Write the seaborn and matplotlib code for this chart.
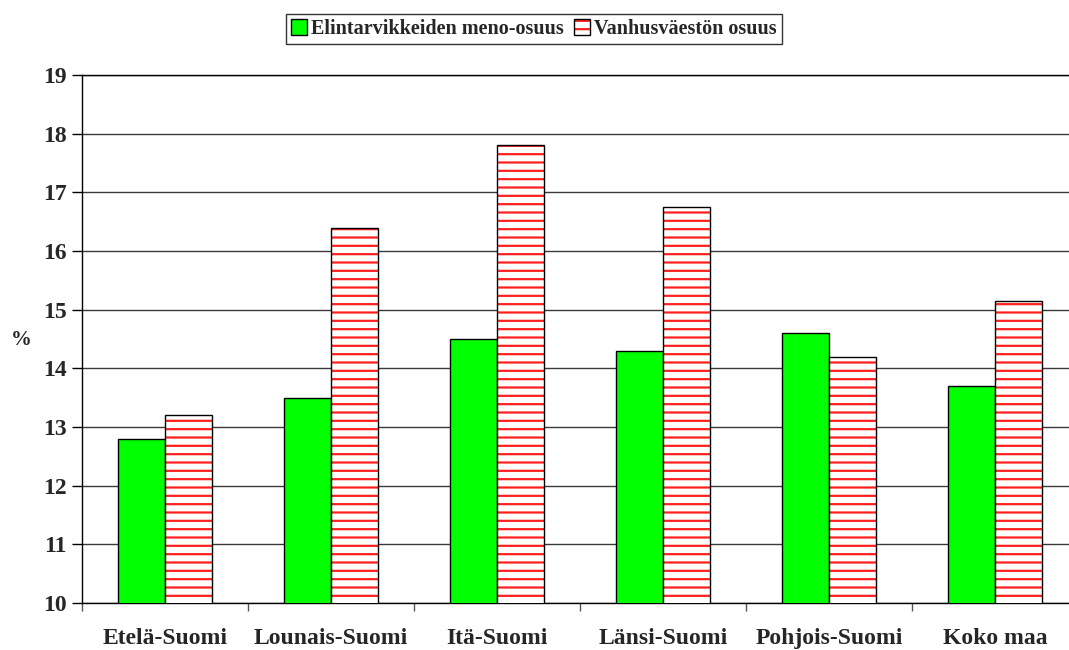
import matplotlib
matplotlib.use("Agg")
import matplotlib.pyplot as plt
import seaborn as sns
import pandas as pd
from matplotlib.patches import Rectangle, Patch
from matplotlib.legend_handler import HandlerTuple

regions = ["Etelä-Suomi", "Lounais-Suomi", "Itä-Suomi", "Länsi-Suomi", "Pohjois-Suomi", "Koko maa"]
series_names = ["Elintarvikkeiden meno-osuus", "Vanhusväestön osuus"]
food_share = [12.8, 13.5, 14.5, 14.3, 14.6, 13.7]
elderly_share = [13.2, 16.4, 17.8, 16.75, 14.2, 15.15]
yticks = list(range(10, 20))

sns.set_theme(style="white")
plt.rcParams['font.family'] = ['Liberation Serif', 'DejaVu Serif']
plt.rcParams['font.weight'] = 'bold'
plt.rcParams['hatch.linewidth'] = 1.6

df = pd.DataFrame({
    "region": regions * 2,
    "series": [series_names[0]] * 6 + [series_names[1]] * 6,
    "value": food_share + elderly_share,
})

fig = plt.figure(figsize=(10.69, 6.5), dpi=100)
ax = fig.add_axes([82 / 1069, 1 - 603 / 650, 996 / 1069, 528 / 650])

sns.barplot(data=df, x="region", y="value", hue="series", order=regions,
            hue_order=series_names, palette=["#00FF00", "#FFFFFF"],
            width=0.566, saturation=1, edgecolor="black", linewidth=1,
            errorbar=None, legend=False, ax=ax, zorder=3)

bars = [p for p in ax.patches if isinstance(p, Rectangle)]
red_bars = bars[6:12]
for p in red_bars:
    p.set_hatch("--")
    p.set_edgecolor("#FF2020")
    p.set_linewidth(0)
    ax.add_patch(Rectangle(p.get_xy(), p.get_width(), p.get_height(),
                           fill=False, edgecolor="black", linewidth=1, zorder=4))

ax.set_ylim(10, 19)
ax.set_xlim(-0.5, len(regions) - 0.5)
ax.set_yticks(yticks)
ax.set_yticklabels([str(t) for t in yticks], fontsize=17, fontweight="bold")
ax.yaxis.grid(True, color="#3a3a3a", linewidth=1, zorder=0)
ax.set_axisbelow(True)

ax.set_xticks(range(len(regions)))
ax.set_xticklabels(regions, fontsize=17, fontweight="bold")
ax.tick_params(axis="x", which="major", length=0, pad=18)
ax.set_xticks([i - 0.5 for i in range(len(regions) + 1)], minor=True)
ax.tick_params(axis="x", which="minor", length=6, width=1, color="#555555", direction="out", bottom=True)
ax.tick_params(axis="y", length=7, width=1, color="black", direction="out", left=True, pad=4)

ax.set_xlabel("")
ax.set_ylabel("%", rotation=0, fontsize=15, fontweight="bold", va="center", ha="center")
ax.yaxis.set_label_coords(-0.061, 0.498)

for s in ["left", "bottom", "top"]:
    ax.spines[s].set_visible(True)
    ax.spines[s].set_color("black")
    ax.spines[s].set_linewidth(1)
ax.spines["right"].set_visible(False)

h_green = Patch(facecolor="#00FF00", edgecolor="black", linewidth=1)
h_red_fill = Patch(facecolor="white", edgecolor="#FF2020", hatch="--", linewidth=0)
h_red_edge = Patch(facecolor="none", edgecolor="black", linewidth=1)
leg = fig.legend([h_green, (h_red_fill, h_red_edge)], series_names, loc="center",
                 bbox_to_anchor=(0.4995, 1 - 29 / 650),
                 handler_map={tuple: HandlerTuple(ndivide=1, pad=0)},
                 ncol=2, frameon=True, fancybox=False, edgecolor="black",
                 prop={"family": "Liberation Serif", "weight": "bold", "size": 14.5},
                 handlelength=0.8, handleheight=0.8, handletextpad=0.2, columnspacing=0.5,
                 borderpad=0.25, borderaxespad=0)
leg.get_frame().set_linewidth(1)

fig.savefig("out.png", dpi=100)
